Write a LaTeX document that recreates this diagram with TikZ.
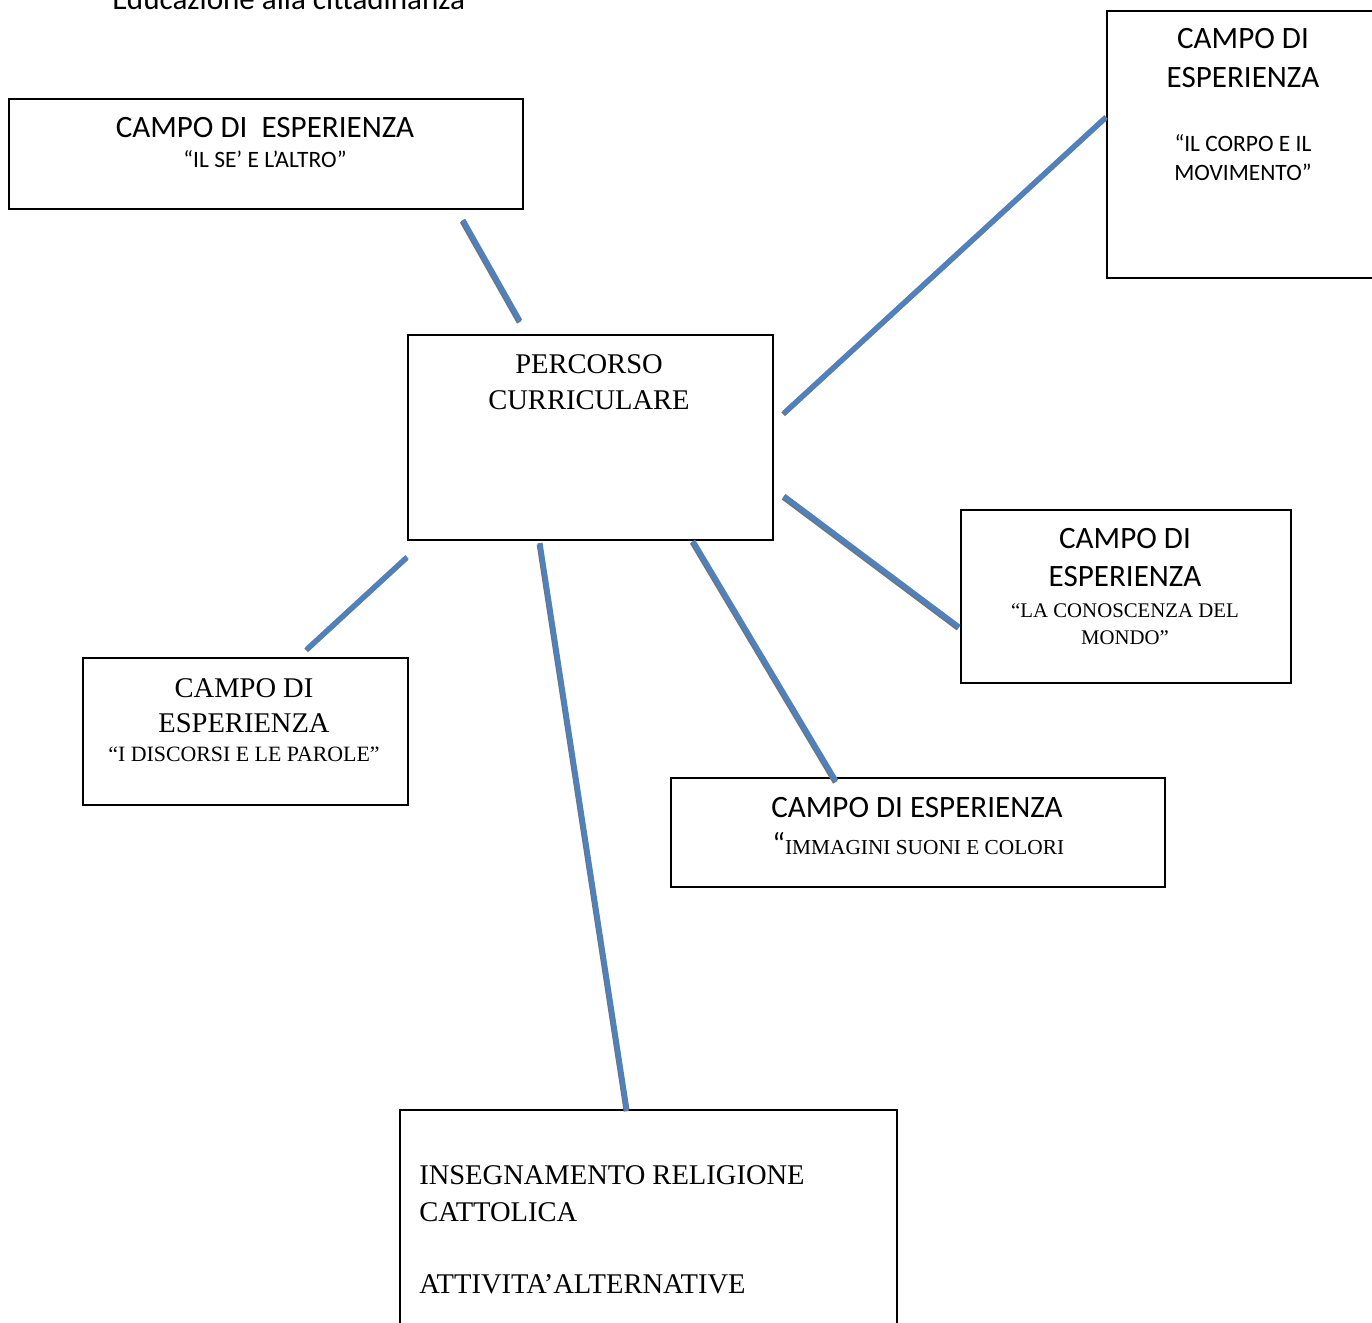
\documentclass[tikz,border=0pt]{standalone}
\usepackage{fontspec}
\setmainfont{Liberation Serif}
\newfontfamily\calfont{Carlito}
\definecolor{lineblue}{HTML}{4F81BD}
\begin{document}
\begin{tikzpicture}[x=0.75pt,y=-0.75pt,
  box/.style={draw=black, line width=1.2pt, rectangle, inner sep=0pt, anchor=north west},
  conn/.style={draw=lineblue, line width=3.8pt,
    preaction={draw=black!55, line width=3.8pt, transform canvas={xshift=-0.6pt,yshift=-1pt}}},
  lbl/.style={anchor=base, inner sep=0pt},
  lblw/.style={anchor=base west, inner sep=0pt},
  calbig/.style={font=\calfont\fontsize{23.3}{27}\selectfont},
  calsmall/.style={font=\calfont\fontsize{17.6}{20}\selectfont},
  serbig/.style={font=\fontsize{21.4}{25}\selectfont},
  sersmall/.style={font=\fontsize{15.6}{18}\selectfont}
]
\useasboundingbox (0,0) rectangle (1372,1322);
\fill[white] (0,0) rectangle (1372,1322);

% title (cut at top, as in the reference)
\node[lblw, calbig] (title) at (112,9) {Educazione alla cittadinanza};

% boxes
\node[box, minimum width=514*0.75pt, minimum height=110*0.75pt] (sealtro) at (8,98) {};
\node[box, minimum width=290*0.75pt, minimum height=267*0.75pt] (corpo) at (1106,10) {};
\node[box, minimum width=365*0.75pt, minimum height=205*0.75pt] (percorso) at (407,334) {};
\node[box, minimum width=330*0.75pt, minimum height=173*0.75pt] (mondo) at (960,509) {};
\node[box, minimum width=325*0.75pt, minimum height=147*0.75pt] (discorsi) at (82,657) {};
\node[box, minimum width=494*0.75pt, minimum height=109*0.75pt] (immagini) at (670,777) {};
\node[box, minimum width=497*0.75pt, minimum height=240*0.75pt] (religione) at (399,1109) {};

% texts
\node[lbl, calbig] (t1a) at (265,137) {CAMPO DI\ \ ESPERIENZA};
\node[lbl, calsmall] (t1b) at (265,167) {“IL SE’ E L’ALTRO”};

\node[lbl, calbig] (t2a) at (1243,48) {CAMPO DI};
\node[lbl, calbig] (t2b) at (1243,87) {ESPERIENZA};
\node[lbl, calsmall] (t2c) at (1243,151) {“IL CORPO E IL};
\node[lbl, calsmall] (t2d) at (1243,180) {MOVIMENTO”};

\node[lbl, serbig] (t3a) at (589,373) {PERCORSO};
\node[lbl, serbig] (t3b) at (589,409) {CURRICULARE};

\node[lbl, calbig] (t4a) at (1125,548) {CAMPO DI};
\node[lbl, calbig] (t4b) at (1125,586) {ESPERIENZA};
\node[lbl, sersmall] (t4c) at (1125,617) {“LA CONOSCENZA DEL};
\node[lbl, sersmall] (t4d) at (1125,644) {MONDO”};

\node[lbl, serbig] (t5a) at (244,697) {CAMPO DI};
\node[lbl, serbig] (t5b) at (244,732) {ESPERIENZA};
\node[lbl, font=\fontsize{16.4}{19}\selectfont] (t5c) at (244,761) {“I DISCORSI E LE PAROLE”};

\node[lbl, calbig] (t6a) at (917,817) {CAMPO DI ESPERIENZA};
\node[lblw, font=\fontsize{16}{19}\selectfont] (t6b) at (772,854) {{\calfont\fontsize{23}{27}\selectfont “}IMMAGINI SUONI E COLORI};

\node[lblw, serbig] (t7a) at (419,1184) {INSEGNAMENTO RELIGIONE};
\node[lblw, serbig] (t7b) at (419,1221) {CATTOLICA};
\node[lblw, serbig] (t7c) at (419,1293) {ATTIVITA’ALTERNATIVE};

% connector end points
\coordinate (c1a) at (463,220); \coordinate (c1b) at (520,321);
\coordinate (c2a) at (784,413); \coordinate (c2b) at (1106,117);
\coordinate (c3a) at (784,496); \coordinate (c3b) at (959,627);
\coordinate (c4a) at (407,557); \coordinate (c4b) at (307,649);
\coordinate (c5a) at (540,543); \coordinate (c5b) at (627,1110);
\coordinate (c6a) at (693,541); \coordinate (c6b) at (836,781);

\draw[conn] (c1a) -- (c1b);
\draw[conn] (c2a) -- (c2b);
\draw[conn] (c3a) -- (c3b);
\draw[conn] (c4a) -- (c4b);
\draw[conn] (c5a) -- (c5b);
\draw[conn] (c6a) -- (c6b);
\end{tikzpicture}
\end{document}
